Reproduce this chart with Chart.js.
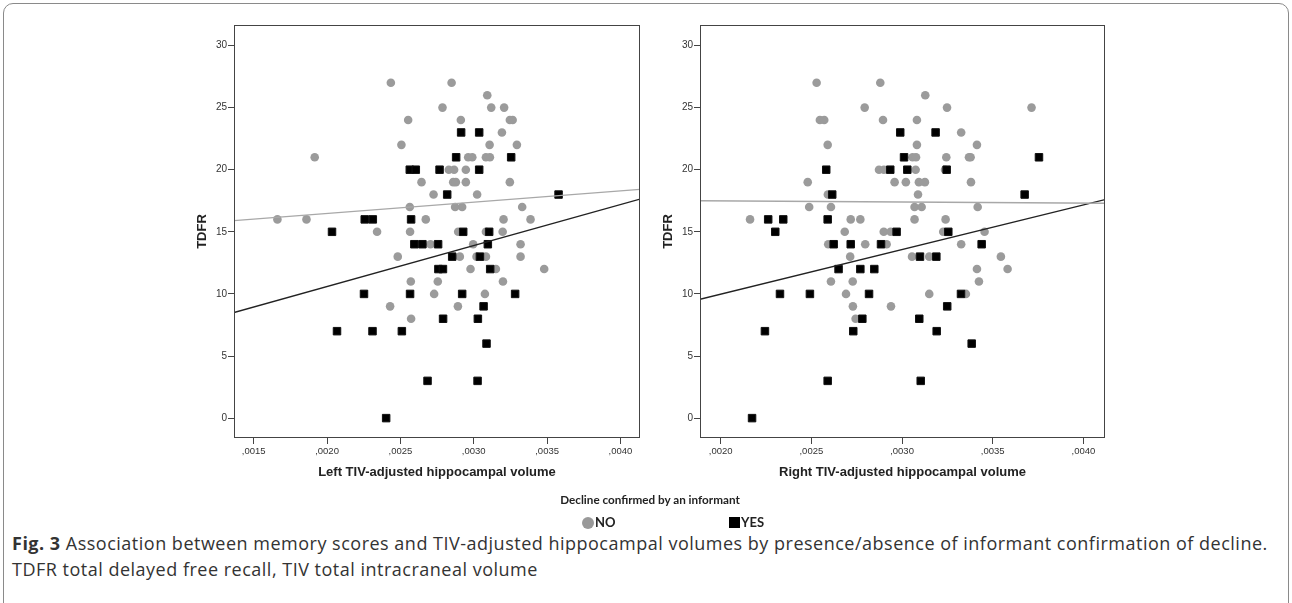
<!DOCTYPE html>
<html>
<head>
<meta charset="utf-8">
<script src="https://cdn.jsdelivr.net/npm/chart.js@4.4.0/dist/chart.umd.min.js"></script>
<style>
html, body { margin: 0; padding: 0; background: #fff; width: 1292px; height: 603px; overflow: hidden; }
#frame { position: absolute; left: 3px; top: 3px; width: 1284px; height: 720px; border: 1px solid #8a8a8a; border-radius: 10px; }
.plot { position: absolute; top: 15px; }
#legTitle { position: absolute; left: 450px; top: 492px; width: 400px; text-align: center; font: bold 11.7px Lato, sans-serif; color: #222; }
.legItem { position: absolute; top: 514px; font: bold 13px Lato, sans-serif; color: #222; }
#dotNo { position: absolute; left: 582px; top: 517px; width: 12px; height: 12px; border-radius: 50%; background: #999; }
#boxYes { position: absolute; left: 729px; top: 517px; width: 11px; height: 11px; background: #000; }
#caption { position: absolute; left: 12px; top: 530px; width: 1278px; font: 18px "Open Sans", sans-serif; letter-spacing: 0.5px; line-height: 26px; color: #333; white-space: nowrap; }
</style>
</head>
<body>
<div id="frame"></div>
<div class="plot" style="left:180px"><canvas id="leftChart" width="470" height="480"></canvas></div>
<div class="plot" style="left:646px"><canvas id="rightChart" width="469" height="480"></canvas></div>
<div id="legTitle">Decline confirmed by an informant</div>
<div id="dotNo"></div><div class="legItem" style="left:595px">NO</div>
<div id="boxYes"></div><div class="legItem" style="left:741px">YES</div>
<div id="caption"><b>Fig. 3</b> Association between memory scores and TIV-adjusted hippocampal volumes by presence/absence of informant confirmation of decline.<br>TDFR total delayed free recall, TIV total intracraneal volume</div>
<script>
// [volume, TDFR] pairs
var leftNo = [
  [0.002435, 27], [0.002849, 27], [0.003092, 26], [0.002787, 25], [0.003119, 25], [0.003207, 25],
  [0.002553, 24], [0.002912, 24], [0.003246, 24], [0.003265, 24], [0.003192, 23],
  [0.002507, 22], [0.003108, 22], [0.003294, 22],
  [0.001916, 21], [0.002962, 21], [0.00299, 21], [0.003083, 21], [0.00311, 21],
  [0.00283, 20], [0.002866, 20], [0.002946, 20],
  [0.002644, 19], [0.00286, 19], [0.002878, 19], [0.002946, 19], [0.003246, 19],
  [0.002726, 18], [0.003023, 18],
  [0.002564, 17], [0.002873, 17], [0.002921, 17], [0.00333, 17],
  [0.001662, 16], [0.00186, 16], [0.002673, 16], [0.003203, 16], [0.003387, 16],
  [0.002341, 15], [0.002566, 15], [0.002894, 15], [0.003083, 15], [0.003197, 15],
  [0.002705, 14], [0.002996, 14], [0.003319, 14],
  [0.002482, 13], [0.002905, 13], [0.003019, 13], [0.003083, 13], [0.003319, 13],
  [0.002978, 12], [0.003151, 12], [0.00348, 12],
  [0.002571, 11], [0.002755, 11], [0.003199, 11],
  [0.00273, 10], [0.003076, 10], [0.00243, 9], [0.002892, 9], [0.002573, 8]
];
var leftYes = [
  [0.002914, 23], [0.003037, 23], [0.00288, 21], [0.003255, 21],
  [0.002564, 20], [0.002605, 20], [0.002767, 20], [0.003037, 20],
  [0.002819, 18], [0.003578, 18],
  [0.002257, 16], [0.002312, 16], [0.002573, 16],
  [0.002034, 15], [0.002928, 15], [0.003105, 15],
  [0.002595, 14], [0.00265, 14], [0.002757, 14], [0.003096, 14],
  [0.002853, 13], [0.003042, 13],
  [0.002759, 12], [0.00279, 12], [0.003112, 12],
  [0.002252, 10], [0.002566, 10], [0.002921, 10], [0.003282, 10],
  [0.003067, 9], [0.002791, 8], [0.003028, 8],
  [0.002068, 7], [0.00231, 7], [0.00251, 7],
  [0.003087, 6], [0.002685, 3], [0.003026, 3], [0.002403, 0]
];
var rightNo = [
  [0.002529, 27], [0.00288, 27], [0.003128, 26],
  [0.002794, 25], [0.003248, 25], [0.003714, 25],
  [0.002547, 24], [0.002571, 24], [0.002895, 24], [0.003082, 24], [0.003326, 23],
  [0.00259, 22], [0.003082, 22], [0.003413, 22],
  [0.003058, 21], [0.003077, 21], [0.003244, 21], [0.003369, 21], [0.003378, 21],
  [0.002873, 20], [0.0029, 20], [0.003075, 20], [0.003237, 20],
  [0.00248, 19], [0.002959, 19], [0.003021, 19], [0.003093, 19], [0.003126, 19], [0.00338, 19],
  [0.002591, 18], [0.003088, 18],
  [0.002488, 17], [0.002608, 17], [0.003069, 17], [0.003108, 17], [0.003417, 17],
  [0.002162, 16], [0.002717, 16], [0.00277, 16], [0.003069, 16], [0.00324, 16],
  [0.002684, 15], [0.002899, 15], [0.002937, 15], [0.003227, 15], [0.003455, 15],
  [0.002593, 14], [0.002797, 14], [0.002915, 14], [0.003326, 14],
  [0.002714, 13], [0.003055, 13], [0.00315, 13], [0.003545, 13],
  [0.003413, 12], [0.003582, 12],
  [0.002608, 11], [0.002728, 11], [0.003424, 11],
  [0.002691, 10], [0.00315, 10], [0.003352, 10],
  [0.002729, 9], [0.002939, 9], [0.002744, 8]
];
var rightYes = [
  [0.00299, 23], [0.003185, 23], [0.003011, 21], [0.003755, 21],
  [0.002582, 20], [0.002935, 20], [0.003029, 20], [0.003246, 20],
  [0.002615, 18], [0.003676, 18],
  [0.002262, 16], [0.002345, 16], [0.00259, 16],
  [0.002301, 15], [0.00297, 15], [0.003255, 15],
  [0.002623, 14], [0.002717, 14], [0.002884, 14], [0.003439, 14],
  [0.003099, 13], [0.003189, 13],
  [0.00265, 12], [0.00277, 12], [0.002847, 12],
  [0.002327, 10], [0.002492, 10], [0.002818, 10], [0.003325, 10],
  [0.003249, 9], [0.002781, 8], [0.003095, 8],
  [0.002244, 7], [0.002731, 7], [0.003191, 7],
  [0.003384, 6], [0.00259, 3], [0.003103, 3], [0.002173, 0]
];

// fit lines: TDFR at the left and right ends of the x range
var leftFitNo = [15.9, 18.42];
var leftFitYes = [8.5, 17.64];
var rightFitNo = [17.5, 17.3];
var rightFitYes = [9.57, 17.6];

var leftRange = [0.001366, 0.004133];
var rightRange = [0.001886, 0.004119];
var yRange = [-1.6, 31.65];

var leftXTicks = [0.0015, 0.0020, 0.0025, 0.0030, 0.0035, 0.0040];
var rightXTicks = [0.0020, 0.0025, 0.0030, 0.0035, 0.0040];
var yTicks = [0, 5, 10, 15, 20, 25, 30];

var FONT = 'Liberation Sans, Arial, sans-serif';

var boxPlugin = {
  id: 'box',
  afterDraw: function (chart) {
    var a = chart.chartArea, ctx = chart.ctx;
    ctx.save();
    ctx.strokeStyle = '#444';
    ctx.lineWidth = 1;
    ctx.strokeRect(a.left + 0.5, a.top + 0.5, a.right - a.left - 1, a.bottom - a.top - 1);
    ctx.restore();
  }
};

function toPoints(rows) {
  return rows.map(function (r) { return { x: r[0], y: r[1] }; });
}

function fitLine(range, ends) {
  return [{ x: range[0], y: ends[0] }, { x: range[1], y: ends[1] }];
}

function makeChart(id, noRows, yesRows, fitNo, fitYes, range, xTicks, xTitle) {
  return new Chart(document.getElementById(id), {
    type: 'scatter',
    data: {
      datasets: [
        { data: fitLine(range, fitNo), showLine: true, borderColor: '#a8a8a8', borderWidth: 1.3, pointRadius: 0, order: 0 },
        { data: fitLine(range, fitYes), showLine: true, borderColor: '#222', borderWidth: 1.3, pointRadius: 0, order: 0 },
        { data: toPoints(yesRows), pointStyle: 'rect', pointRadius: 5.3, backgroundColor: '#000', borderColor: '#111', borderWidth: 1, order: 1 },
        { data: toPoints(noRows), pointStyle: 'circle', pointRadius: 4.3, backgroundColor: '#9b9b9b', borderWidth: 0, order: 2 }
      ]
    },
    options: {
      responsive: false,
      animation: false,
      events: [],
      layout: { padding: { left: 0, top: 10, right: 10, bottom: 0 } },
      plugins: { legend: { display: false }, tooltip: { enabled: false } },
      scales: {
        x: {
          type: 'linear', min: range[0], max: range[1],
          afterFit: function (s) { s.height = 57; },
          afterBuildTicks: function (s) { s.ticks = xTicks.map(function (v) { return { value: v }; }); },
          grid: { drawOnChartArea: false, drawTicks: true, tickLength: 6, color: '#444' },
          border: { display: false },
          ticks: {
            font: { family: FONT, size: 9.5 }, color: '#333', padding: 2, maxRotation: 0,
            callback: function (v) { return ',' + v.toFixed(4).split('.')[1]; }
          },
          title: { display: true, text: xTitle, color: '#222', font: { family: FONT, size: 13, weight: 'bold' }, padding: { top: 0, bottom: 15 } }
        },
        y: {
          min: yRange[0], max: yRange[1],
          afterFit: function (s) { s.width = 54; },
          afterBuildTicks: function (s) { s.ticks = yTicks.map(function (v) { return { value: v }; }); },
          grid: { drawOnChartArea: false, drawTicks: true, tickLength: 6, color: '#444' },
          border: { display: false },
          ticks: { font: { family: FONT, size: 10 }, color: '#333', padding: 1 },
          title: { display: true, text: 'TDFR', color: '#222', font: { family: FONT, size: 13, weight: 'bold' }, padding: { top: 15, bottom: 0 } }
        }
      }
    },
    plugins: [boxPlugin]
  });
}

makeChart('leftChart', leftNo, leftYes, leftFitNo, leftFitYes, leftRange, leftXTicks, 'Left TIV-adjusted hippocampal volume');
makeChart('rightChart', rightNo, rightYes, rightFitNo, rightFitYes, rightRange, rightXTicks, 'Right TIV-adjusted hippocampal volume');
</script>
</body>
</html>
